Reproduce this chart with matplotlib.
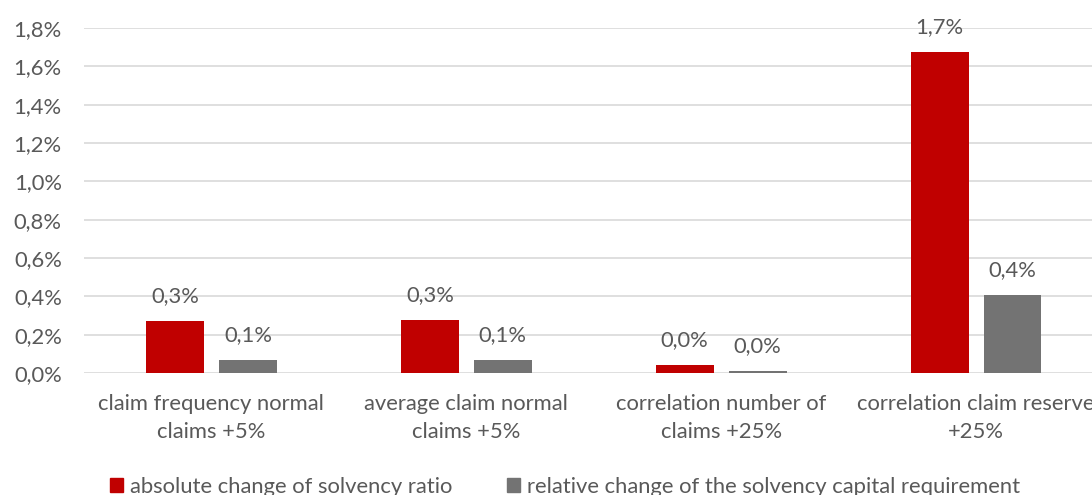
import matplotlib
matplotlib.use("Agg")
import matplotlib.pyplot as plt
from matplotlib.ticker import FuncFormatter, MultipleLocator
from matplotlib.patches import Patch
import numpy as np

# data (values in percent)
categories = ["claim frequency normal\nclaims +5%",
              "average claim normal\nclaims +5%",
              "correlation number of\nclaims +25%",
              "correlation claim reserve\n+25%"]
abs_change = [0.27, 0.275, 0.04, 1.675]
rel_change = [0.066, 0.066, 0.008, 0.405]
series_names = ["absolute change of solvency ratio",
                "relative change of the solvency capital requirement"]

red = "#c00000"
grey = "#737373"
txt = "#595959"
fs = 15.8
plt.rcParams['font.family'] = ['Lato', 'DejaVu Sans']

def pct(v):
    return f"{v:.1f}%".replace(".", ",")

fig = plt.figure(figsize=(10.92, 4.95), dpi=100)
# plot area runs past the right edge like in the original crop
ax = fig.add_axes([84 / 1092, 1 - 373 / 495, 1019.5 / 1092, 345 / 495])

x = np.arange(len(categories))
w = 0.227
off = 0.143
b1 = ax.bar(x - off, abs_change, w, color=red, zorder=3)
b2 = ax.bar(x + off, rel_change, w, color=grey, zorder=3)

for bars, vals in ((b1, abs_change), (b2, rel_change)):
    for r, v in zip(bars, vals):
        ax.annotate(pct(v), (r.get_x() + r.get_width() / 2, v),
                    xytext=(0, 11), textcoords="offset points",
                    ha="center", va="bottom", fontsize=fs, color=txt)

ax.set_xlim(-0.5, len(categories) - 0.5)
ax.set_ylim(0, 1.8)
ax.yaxis.set_major_locator(MultipleLocator(0.2))
ax.yaxis.set_major_formatter(FuncFormatter(lambda v, p: pct(v)))
ax.set_xticks(x)
ax.set_xticklabels(categories, linespacing=1.5)
ax.tick_params(axis="both", length=0, labelsize=fs, colors=txt)
ax.tick_params(axis="y", pad=16)
ax.tick_params(axis="x", pad=15)
ax.grid(axis="y", color="#d9d9d9", linewidth=1.2, zorder=0)
for s in ax.spines.values():
    s.set_visible(False)

handles = [Patch(color=red), Patch(color=grey)]
fig.legend(handles, series_names, loc="center left",
           bbox_to_anchor=(110 / 1092, 1 - 487 / 495), ncol=2, frameon=False,
           fontsize=fs, labelcolor=txt, handlelength=0.6, handleheight=0.6,
           handletextpad=0.3, columnspacing=2.5, borderpad=0, borderaxespad=0)

fig.savefig("out.png", dpi=100)
